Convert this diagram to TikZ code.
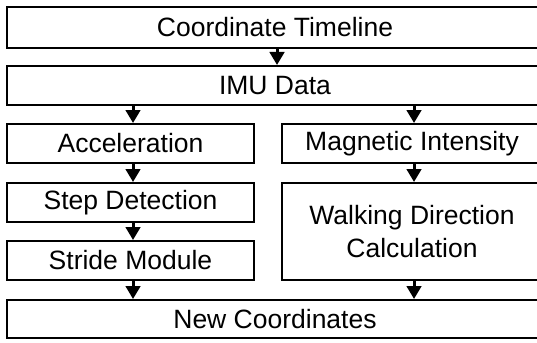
\documentclass[tikz,border=0pt]{standalone}
\usepackage{fontspec}
\setmainfont{Liberation Sans}
\usetikzlibrary{arrows.meta}
\begin{document}
\begin{tikzpicture}[x=1pt, y=-1pt,
  box/.style={draw=black, line width=2pt, rectangle, inner sep=0pt,
    font=\fontsize{26.5}{33}\selectfont, align=center, text=black},
  flow/.style={line width=3pt, -{Triangle[width=14.5pt,length=13pt]}}]
  \useasboundingbox (0,0) rectangle (537,342);
  \begin{scope}
  \clip (0,0) rectangle (537,342);
  % full-width rows
  \node[box, minimum width=536pt, minimum height=40.5pt] (timeline) at (275,27.5) {Coordinate Timeline};
  \node[box, minimum width=536pt, minimum height=39pt] (imu) at (275,85.5) {IMU Data};
  \node[box, minimum width=536pt, minimum height=38pt] (newc) at (275,319) {New Coordinates};
  % left column
  \node[box, minimum width=247pt, minimum height=39pt] (acc) at (130.5,143.5) {Acceleration};
  \node[box, minimum width=247pt, minimum height=39pt] (step) at (130.5,202.5) {Step Detection};
  \node[box, minimum width=247pt, minimum height=39pt] (stride) at (130.5,260.5) {Stride Module};
  % right column
  \node[box, minimum width=260pt, minimum height=39pt] (mag) at (412,143.5) {Magnetic Intensity};
  \node[box, minimum width=260pt, minimum height=97pt] (walk) at (412,231.5) {Walking Direction\\Calculation};
  \end{scope}
  % connectors
  \draw[flow] ([xshift=2pt]timeline.south) -- ([xshift=2pt]timeline.south |- imu.north);
  \draw[flow] (imu.south -| acc.north) ++(2.5,0) coordinate (a0) (a0) -- (a0 |- acc.north);
  \draw[flow] (imu.south -| mag.north) ++(2,0) coordinate (m0) (m0) -- (m0 |- mag.north);
  \draw[flow] ([xshift=2.5pt]acc.south) -- ([xshift=2.5pt]step.north);
  \draw[flow] ([xshift=2.5pt]step.south) -- ([xshift=2.5pt]stride.north);
  \draw[flow] ([xshift=2.5pt]stride.south) -- ([xshift=2.5pt]stride.south |- newc.north);
  \draw[flow] ([xshift=2pt]mag.south) -- ([xshift=2pt]walk.north);
  \draw[flow] ([xshift=2pt]walk.south) -- ([xshift=2pt]walk.south |- newc.north);
\end{tikzpicture}
\end{document}
